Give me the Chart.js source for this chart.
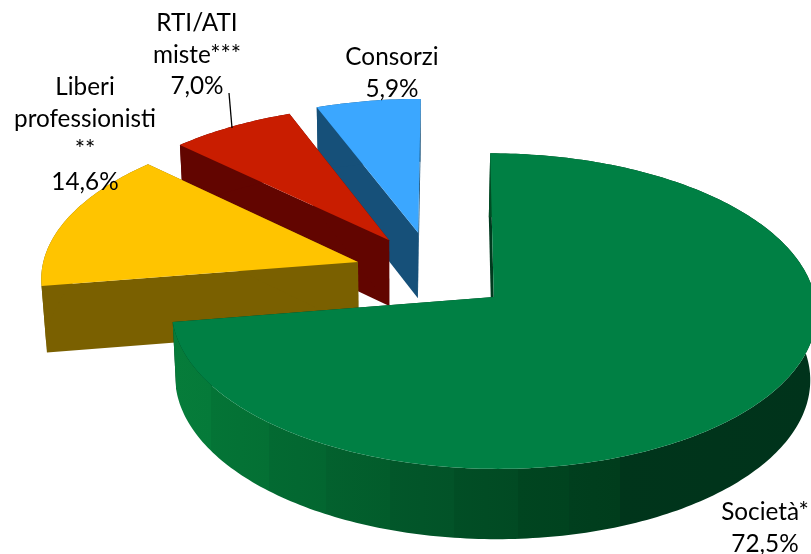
<!DOCTYPE html>
<html>
<head>
<meta charset="utf-8">
<script src="https://cdn.jsdelivr.net/npm/chart.js@4/dist/chart.umd.js"></script>
<style>
html,body{margin:0;padding:0;background:#fff;overflow:hidden}
#wrap{position:relative;width:811px;height:554px}
</style>
</head>
<body>
<div id="wrap"><canvas id="c" width="811" height="554"></canvas></div>
<script>
// ---- data ----
const categories = ["Società*", "Liberi professionisti **", "RTI/ATI miste***", "Consorzi"];
const values = [72.5, 14.6, 7.0, 5.9];
const labelLines = [["Società*"], ["Liberi", "professionisti", "**"], ["RTI/ATI", "miste***"], ["Consorzi"]];

// ---- styles ----
const topColors = ["#008044", "#FFC400", "#C91D00", "#3BA7FF"];
const sideColors = ["#003A1E", "#7A6000", "#620500", "#165079"];
const explode = [40.4, 72.8, 78.5, 78.5];
const nudge = [[0.007, 0], [0, -0.027], [-0.012, 0.01], [-0.042, 0.008]];
const greenStops = [
  [0, "#067C3A"], [0.06, "#057A39"], [0.06, "#047436"], [0.15, "#047034"], [0.15, "#036A32"],
  [0.24, "#036630"], [0.24, "#03612E"], [0.34, "#025C2B"], [0.34, "#02572A"], [0.44, "#025328"],
  [0.44, "#014E25"], [0.54, "#014A23"], [0.54, "#004520"], [0.62, "#00431F"], [0.62, "#003F1E"],
  [0.7, "#003D1C"], [0.7, "#00351B"], [1, "#00331B"]
];
const greenSpan = [173, 811];
const labelAnchors = [[765, 520], [85, 95], [197, 31], [392, 65]];
const lineStep = 31.5;
const leader = [[229, 93], [232, 128]];

// ---- 3D projection of the pie plane ----
const P = {X0: 450, Y0: 280, a: 318, b: 153.5, k: 0.088};
function project(u, v) {
  const w = 1 - P.k * v;
  return [P.X0 + P.a * u / w, P.Y0 + P.b * v / w];
}
function extrude(p) {
  return [400 + (p[0] - 400) * 0.985, p[1] + 66.5 + (p[1] - 280) * 0.02];
}
function polygon(ctx, pts, color) {
  ctx.beginPath();
  pts.forEach((p, i) => i ? ctx.lineTo(p[0], p[1]) : ctx.moveTo(p[0], p[1]));
  ctx.closePath();
  ctx.fillStyle = color;
  ctx.fill();
}

const pie3d = {
  id: "pie3d",
  beforeDatasetsDraw(chart) {
    const ctx = chart.ctx;
    const arcs = chart.getDatasetMeta(0).data;
    const grad = ctx.createLinearGradient(greenSpan[0], 0, greenSpan[1], 0);
    greenStops.forEach(s => grad.addColorStop(s[0], s[1]));
    ctx.save();
    for (let i = arcs.length - 1; i >= 0; i--) {
      const el = arcs[i];
      const R = el.outerRadius;
      const mid = (el.startAngle + el.endAngle) / 2;
      const d = el.options.offset / R;
      const ax = Math.cos(mid) * d + nudge[i][0];
      const ay = Math.sin(mid) * d + nudge[i][1];
      const apex = project(ax, ay);
      const rim = [];
      const n = Math.max(2, Math.round((el.endAngle - el.startAngle) * 180 / Math.PI));
      for (let s = 0; s <= n; s++) {
        const t = el.startAngle + (el.endAngle - el.startAngle) * s / n;
        rim.push(project(ax + Math.cos(t), ay + Math.sin(t)));
      }
      // radial walls
      [rim[0], rim[rim.length - 1]].forEach(p => {
        polygon(ctx, [apex, p, extrude(p), extrude(apex)], sideColors[i]);
      });
      // curved wall
      polygon(ctx, rim.concat(rim.map(extrude).reverse()), i === 0 ? grad : sideColors[i]);
      // top face
      polygon(ctx, [apex].concat(rim), topColors[i]);
    }
    ctx.restore();
    return false;
  },
  afterDraw(chart) {
    const ctx = chart.ctx;
    ctx.save();
    ctx.strokeStyle = "#000";
    ctx.lineWidth = 1.3;
    ctx.beginPath();
    ctx.moveTo(leader[0][0], leader[0][1]);
    ctx.lineTo(leader[1][0], leader[1][1]);
    ctx.stroke();
    ctx.fillStyle = "#000";
    ctx.font = '24.3px Lato, "Open Sans", sans-serif';
    ctx.textAlign = "center";
    ctx.textBaseline = "alphabetic";
    values.forEach((val, i) => {
      const lines = labelLines[i].concat(val.toFixed(1).replace(".", ",") + "%");
      lines.forEach((t, j) => ctx.fillText(t, labelAnchors[i][0], labelAnchors[i][1] + j * lineStep));
    });
    ctx.restore();
  }
};

new Chart(document.getElementById("c"), {
  type: "pie",
  data: {
    labels: categories,
    datasets: [{data: values, backgroundColor: topColors, offset: explode, borderWidth: 0}]
  },
  options: {
    responsive: false,
    animation: false,
    layout: {padding: 0},
    plugins: {legend: {display: false}, tooltip: {enabled: false}},
    events: []
  },
  plugins: [pie3d]
});
</script>
</body>
</html>
